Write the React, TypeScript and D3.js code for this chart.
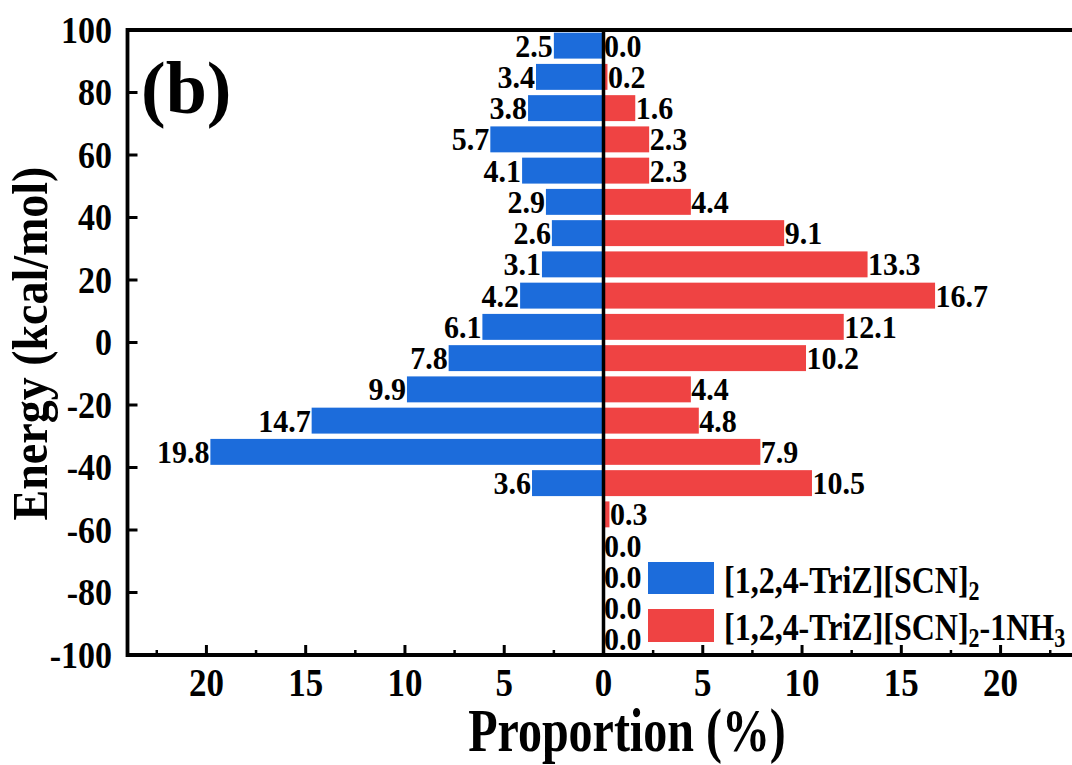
import React from 'react';
import * as d3 from 'd3';

// Energy bin centres (kcal/mol), top to bottom
const energyBins = [95, 85, 75, 65, 55, 45, 35, 25, 15, 5, -5, -15, -25, -35, -45, -55, -65, -75, -85, -95];
// Proportion (%) of each bin for the two systems
const triazSCN: (number | null)[] = [2.5, 3.4, 3.8, 5.7, 4.1, 2.9, 2.6, 3.1, 4.2, 6.1, 7.8, 9.9, 14.7, 19.8, 3.6, null, null, null, null, null];
const triazSCN_NH3: number[] = [0.0, 0.2, 1.6, 2.3, 2.3, 4.4, 9.1, 13.3, 16.7, 12.1, 10.2, 4.4, 4.8, 7.9, 10.5, 0.3, 0.0, 0.0, 0.0, 0.0];

const yTicks = [100, 80, 60, 40, 20, 0, -20, -40, -60, -80, -100];
const xTicks = [-20, -15, -10, -5, 0, 5, 10, 15, 20];
const xMinorTicks = [-22.5, -17.5, -12.5, -7.5, -2.5, 2.5, 7.5, 12.5, 17.5, 22.5];

const BLUE = '#1C6CDB';
const RED = '#EF4343';
const FONT = '"Liberation Serif", "Times New Roman", serif';

// text placed at (x, y) and stretched vertically by k
const tall = (x: number, y: number, k: number) => `translate(${x},${y}) scale(1,${k})`;

export default function App() {
  const W = 1072;
  const H = 765;
  const x = d3.scaleLinear().domain([-24, 24]).range([127, 1080]);
  const y = d3.scaleLinear().domain([-100, 100]).range([655, 30]);
  const halfBin = 4.15; // bar half-height in energy units

  const left = x(-24) + 0.5;
  const top = y(100);
  const bottom = y(-100);

  return (
    <svg width={W} height={H} style={{ position: 'absolute', left: 0, top: 0, background: '#fff' }} fontFamily={FONT} fontWeight="bold">
      {/* blue bars, drawn leftwards */}
      {energyBins.map((e, i) => {
        const v = triazSCN[i];
        if (v == null) return null;
        return (
          <rect key={`b${i}`} x={x(-v)} y={y(e + halfBin)} width={x(0) - x(-v)} height={y(e - halfBin) - y(e + halfBin)} fill={BLUE} />
        );
      })}
      {/* red bars, drawn rightwards */}
      {energyBins.map((e, i) => {
        const v = triazSCN_NH3[i];
        return (
          <rect key={`r${i}`} x={x(0)} y={y(e + halfBin)} width={x(v) - x(0)} height={y(e - halfBin) - y(e + halfBin)} fill={RED} />
        );
      })}
      {/* value labels */}
      {energyBins.map((e, i) => {
        const v = triazSCN[i];
        if (v == null) return null;
        return (
          <text key={`bl${i}`} transform={tall(x(-v) - 1, y(e) + 11, 1.02)} textAnchor="end" fontSize={30} fill="#000">
            {v.toFixed(1)}
          </text>
        );
      })}
      {energyBins.map((e, i) => {
        const v = triazSCN_NH3[i];
        return (
          <text key={`rl${i}`} transform={tall(x(v) + 0.5, y(e) + 11, 1.02)} textAnchor="start" fontSize={30} fill="#000">
            {v.toFixed(1)}
          </text>
        );
      })}

      {/* zero line */}
      <line x1={x(0)} x2={x(0)} y1={top} y2={bottom} stroke="#000" strokeWidth={3.5} />

      {/* frame */}
      <line x1={left} x2={W + 5} y1={top} y2={top} stroke="#000" strokeWidth={3.8} />
      <line x1={left} x2={W + 5} y1={bottom} y2={bottom} stroke="#000" strokeWidth={3.8} />
      <line x1={left} x2={left} y1={top - 1.9} y2={bottom + 1.9} stroke="#000" strokeWidth={3.8} />

      {/* y ticks */}
      {yTicks.map((t) => (
        <g key={`yt${t}`}>
          <line x1={left} x2={left + 10} y1={y(t)} y2={y(t)} stroke="#000" strokeWidth={3} />
          <text transform={tall(112, y(t) + 12.5, 1.1)} textAnchor="end" fontSize={34} fill="#000">
            {t}
          </text>
        </g>
      ))}

      {/* x ticks */}
      {xTicks.map((t) => (
        <g key={`xt${t}`}>
          <line x1={x(t)} x2={x(t)} y1={bottom} y2={bottom - 10} stroke="#000" strokeWidth={3} />
          <text transform={tall(x(t), 696, 1.12)} textAnchor="middle" fontSize={35} fill="#000">
            {Math.abs(t)}
          </text>
        </g>
      ))}
      {xMinorTicks.map((t) => (
        <line key={`xm${t}`} x1={x(t)} x2={x(t)} y1={bottom} y2={bottom - 5} stroke="#000" strokeWidth={2.5} />
      ))}

      {/* axis titles */}
      <text transform={tall(627, 751, 1.28)} textAnchor="middle" fontSize={48} fill="#000">
        Proportion (%)
      </text>
      <text transform="translate(47, 343.5) rotate(-90) scale(1,1.12)" textAnchor="middle" fontSize={46} fill="#000">
        Energy (kcal/mol)
      </text>

      {/* panel label */}
      <text x={141} y={113} fontSize={74} fill="#000">
        (b)
      </text>

      {/* legend */}
      <rect x={648} y={562} width={66} height={32} fill={BLUE} />
      <rect x={648} y={609} width={66} height={33} fill={RED} />
      <text transform={tall(724, 593, 1.2)} fontSize={32} fill="#000">
        [1,2,4-TriZ][SCN]<tspan fontSize={22} dy={6}>2</tspan>
      </text>
      <text transform={tall(724, 640, 1.2)} fontSize={32} fill="#000">
        [1,2,4-TriZ][SCN]<tspan fontSize={22} dy={6}>2</tspan>
        <tspan dy={-6}>-1NH</tspan>
        <tspan fontSize={22} dy={6}>3</tspan>
      </text>
    </svg>
  );
}
